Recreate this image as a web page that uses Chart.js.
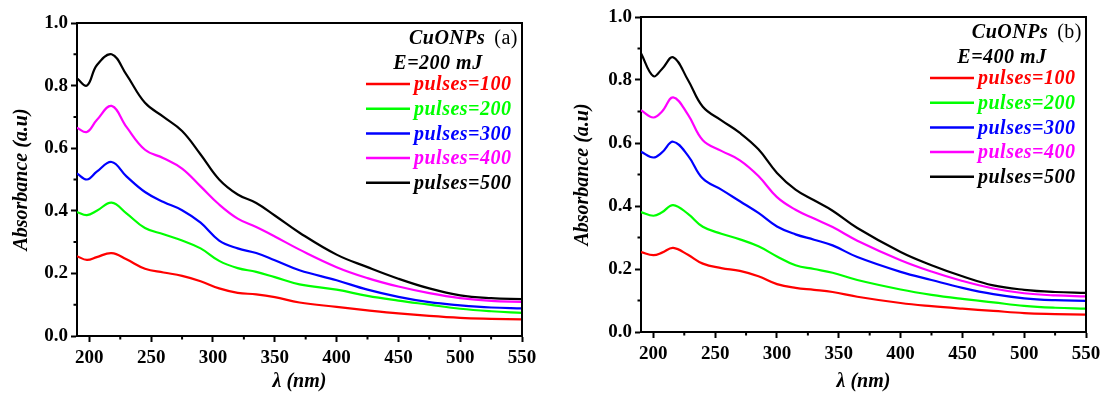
<!DOCTYPE html>
<html>
<head>
<meta charset="utf-8">
<script src="https://cdn.jsdelivr.net/npm/chart.js@4.4.0/dist/chart.umd.min.js"></script>
<style>
  html, body { margin: 0; padding: 0; background: #fff; }
  body { width: 1101px; height: 394px; position: relative; overflow: hidden; }
  .box { position: absolute; top: 0; height: 394px; }
  #boxA { left: 0; width: 550px; }
  #boxB { left: 560px; width: 541px; }
</style>
</head>
<body>
<div class="box" id="boxA"><canvas id="chartA"></canvas></div>
<div class="box" id="boxB"><canvas id="chartB"></canvas></div>
<script>
// data
const seriesLabels = ["pulses=100", "pulses=200", "pulses=300", "pulses=400", "pulses=500"];
const seriesColors = ["#ff0000", "#00ff00", "#0000ff", "#ff00ff", "#000000"];

const xTicks = [200, 250, 300, 350, 400, 450, 500, 550];
const xMinor = [225, 275, 325, 375, 425, 475, 525];
const yTicks = [0, 0.2, 0.4, 0.6, 0.8, 1.0];
const yMinor = [0.1, 0.3, 0.5, 0.7, 0.9];

// panel (a) E=200 mJ
const wavelengthA = [190, 198, 206, 218, 230, 245, 260, 275, 290, 305, 320, 335, 350, 370, 400, 425, 450, 475, 500, 525, 550];
const p100A = [0.255, 0.243, 0.252, 0.265, 0.245, 0.215, 0.203, 0.192, 0.175, 0.152, 0.138, 0.133, 0.124, 0.107, 0.093, 0.082, 0.072, 0.064, 0.058, 0.055, 0.053];
const p200A = [0.396, 0.386, 0.400, 0.426, 0.392, 0.345, 0.325, 0.305, 0.280, 0.240, 0.217, 0.205, 0.188, 0.165, 0.148, 0.128, 0.113, 0.100, 0.087, 0.079, 0.074];
const p300A = [0.519, 0.500, 0.525, 0.556, 0.510, 0.460, 0.428, 0.402, 0.362, 0.305, 0.280, 0.265, 0.242, 0.210, 0.178, 0.148, 0.125, 0.108, 0.098, 0.091, 0.088];
const p400A = [0.665, 0.652, 0.690, 0.735, 0.668, 0.595, 0.568, 0.535, 0.478, 0.420, 0.375, 0.348, 0.318, 0.276, 0.220, 0.185, 0.158, 0.137, 0.121, 0.112, 0.109];
const p500A = [0.823, 0.800, 0.865, 0.900, 0.835, 0.745, 0.700, 0.655, 0.580, 0.500, 0.452, 0.425, 0.385, 0.330, 0.260, 0.220, 0.183, 0.152, 0.130, 0.121, 0.118];

// panel (b) E=400 mJ
const wavelengthB = [190, 200, 207, 216, 228, 240, 255, 270, 285, 300, 315, 330, 345, 365, 400, 425, 450, 475, 500, 525, 550];
const p100B = [0.254, 0.244, 0.252, 0.267, 0.245, 0.217, 0.203, 0.194, 0.177, 0.152, 0.140, 0.134, 0.127, 0.112, 0.092, 0.082, 0.074, 0.067, 0.060, 0.057, 0.055];
const p200B = [0.381, 0.369, 0.380, 0.403, 0.375, 0.334, 0.312, 0.294, 0.272, 0.240, 0.212, 0.200, 0.188, 0.165, 0.135, 0.118, 0.105, 0.094, 0.083, 0.077, 0.074];
const p300B = [0.572, 0.554, 0.570, 0.604, 0.560, 0.487, 0.452, 0.415, 0.378, 0.335, 0.310, 0.293, 0.275, 0.238, 0.191, 0.165, 0.140, 0.120, 0.107, 0.101, 0.099];
const p400B = [0.704, 0.681, 0.700, 0.745, 0.690, 0.609, 0.575, 0.545, 0.495, 0.428, 0.388, 0.360, 0.333, 0.290, 0.228, 0.192, 0.162, 0.138, 0.123, 0.116, 0.113];
const p500B = [0.885, 0.812, 0.835, 0.872, 0.800, 0.715, 0.672, 0.632, 0.580, 0.505, 0.452, 0.418, 0.385, 0.330, 0.254, 0.212, 0.177, 0.148, 0.134, 0.127, 0.124];

const serif = '"Liberation Serif", "Times New Roman", serif';

// top/right frame, minor ticks and the in-plot legend
const framePlugin = {
  id: "frame",
  afterDraw(chart, args, opts) {
    const { ctx, chartArea: a, scales } = chart;
    ctx.save();
    ctx.strokeStyle = "#000";
    ctx.lineWidth = 2;
    ctx.beginPath();
    ctx.moveTo(a.left, a.top);
    ctx.lineTo(a.right, a.top);
    ctx.lineTo(a.right, a.bottom);
    ctx.stroke();

    ctx.beginPath();
    xMinor.forEach((v) => {
      const px = scales.x.getPixelForValue(v);
      ctx.moveTo(px, a.bottom);
      ctx.lineTo(px, a.bottom + 3.5);
    });
    yMinor.forEach((v) => {
      const py = scales.y.getPixelForValue(v);
      ctx.moveTo(a.left, py);
      ctx.lineTo(a.left - 3.5, py);
    });
    ctx.stroke();

    // legend header
    ctx.textBaseline = "middle";
    ctx.fillStyle = "#000";
    ctx.letterSpacing = "0.5px";
    ctx.font = "20px " + serif;
    const tagW = ctx.measureText(opts.tag).width;
    ctx.textAlign = "right";
    ctx.fillText(opts.tag, a.right - 4, a.top + 15.5);
    ctx.font = "italic bold 20px " + serif;
    ctx.fillText("CuONPs", a.right - 4 - tagW - 9, a.top + 15.5);
    ctx.textAlign = "center";
    ctx.fillText(opts.energy, a.right - 84, a.top + 41);

    // legend rows
    ctx.textAlign = "left";
    chart.data.datasets.forEach((ds, i) => {
      const yy = a.top + 61 + i * 24.7;
      ctx.strokeStyle = ds.borderColor;
      ctx.lineWidth = 2.5;
      ctx.beginPath();
      ctx.moveTo(a.right - 156, yy);
      ctx.lineTo(a.right - 112, yy);
      ctx.stroke();
      ctx.fillStyle = ds.borderColor;
      ctx.fillText(ds.label, a.right - 108, yy + 1);
    });
    ctx.restore();
  },
};

function makeChart(id, wl, series, cfg) {
  return new Chart(document.getElementById(id), {
    type: "line",
    data: {
      datasets: series.map((vals, i) => ({
        label: seriesLabels[i],
        data: wl.map((w, k) => ({ x: w, y: vals[k] })),
        borderColor: seriesColors[i],
        borderWidth: 2.2,
        pointRadius: 0,
        tension: 0.4,
        fill: false,
      })),
    },
    options: {
      responsive: true,
      maintainAspectRatio: false,
      animation: false,
      layout: { padding: { left: 0, right: cfg.padRight, top: cfg.padTop, bottom: 0 } },
      plugins: {
        legend: { display: false },
        tooltip: { enabled: false },
        frame: { tag: cfg.tag, energy: cfg.energy },
      },
      scales: {
        x: {
          type: "linear",
          min: 190,
          max: 550,
          afterBuildTicks: (s) => { s.ticks = xTicks.map((v) => ({ value: v })); },
          afterFit: (s) => { s.height = cfg.xHeight; s.paddingLeft = 0; s.paddingRight = 0; },
          grid: { drawOnChartArea: false, tickLength: 6, tickWidth: 2, tickColor: "#000" },
          border: { color: "#000", width: 2 },
          ticks: { color: "#000", padding: 5, maxRotation: 0, autoSkip: false, font: { family: serif, size: 19, weight: "bold" } },
          title: {
            display: true,
            text: "λ (nm)",
            color: "#000",
            padding: { top: 0, bottom: 0 },
            font: { family: serif, size: 20, weight: "bold", style: "italic" },
          },
        },
        y: {
          min: 0,
          max: 1.0,
          afterBuildTicks: (s) => { s.ticks = yTicks.map((v) => ({ value: v })); },
          afterFit: (s) => { s.width = cfg.yWidth; s.paddingTop = 0; s.paddingBottom = 0; },
          grid: { drawOnChartArea: false, tickLength: 6, tickWidth: 2, tickColor: "#000" },
          border: { color: "#000", width: 2 },
          ticks: {
            color: "#000",
            padding: 3,
            font: { family: serif, size: 19, weight: "bold" },
            callback: (v) => Number(v).toFixed(1),
          },
          title: {
            display: true,
            text: "Absorbance (a.u)",
            color: "#000",
            padding: { top: cfg.yTitlePad, bottom: 0 },
            font: { family: serif, size: 20, weight: "bold", style: "italic" },
          },
        },
      },
    },
    plugins: [framePlugin],
  });
}

makeChart("chartA", wavelengthA, [p100A, p200A, p300A, p400A, p500A], {
  tag: "(a)", energy: "E=200 mJ", padRight: 28, padTop: 23, xHeight: 58, yWidth: 77, yTitlePad: 10,
});
makeChart("chartB", wavelengthB, [p100B, p200B, p300B, p400B, p500B], {
  tag: "(b)", energy: "E=400 mJ", padRight: 15, padTop: 17, xHeight: 62, yWidth: 81, yTitlePad: 11,
});
</script>
</body>
</html>
